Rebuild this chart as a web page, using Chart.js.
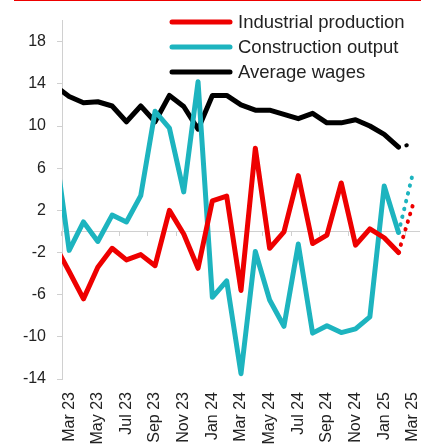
<!DOCTYPE html>
<html>
<head>
<meta charset="utf-8">
<script src="https://cdn.jsdelivr.net/npm/chart.js@4"></script>
<style>
  html, body { margin: 0; padding: 0; background: #fff; overflow: hidden; }
  #wrap { position: relative; width: 421px; height: 470px; }
  #rule { position: absolute; left: 14px; top: 0; width: 407px; height: 1px; background: #ee0000; }
</style>
</head>
<body>
<div id="wrap">
  <canvas id="chart"></canvas>
  <div id="rule"></div>
</div>
<script>
// Feb 23 is only there so the lines run in from the left edge (it is clipped)
const months = ["Feb 23", "Mar 23", "Apr 23", "May 23", "Jun 23", "Jul 23", "Aug 23", "Sep 23", "Oct 23", "Nov 23", "Dec 23",
    "Jan 24", "Feb 24", "Mar 24", "Apr 24", "May 24", "Jun 24", "Jul 24", "Aug 24", "Sep 24", "Oct 24", "Nov 24", "Dec 24",
    "Jan 25", "Feb 25", "Mar 25"];

const tickLabels = ["Mar 23", "May 23", "Jul 23", "Sep 23", "Nov 23", "Jan 24", "Mar 24", "May 24", "Jul 24", "Sep 24", "Nov 24", "Jan 25", "Mar 25"];

const yTicks = [18, 14, 10, 6, 2, -2, -6, -10, -14];

const industrial = [-1.3, -3.8, -6.4, -3.4, -1.6, -2.7, -2.2, -3.25, 2.0, -0.25, -3.5, 2.9, 3.35, -5.6, 7.9, -1.6, -0.05, 5.3, -1.15, -0.35, 4.6, -1.3, 0.25, -0.6, -2.0, null];
const construction = [8.2, -1.8, 0.9, -0.95, 1.55, 0.9, 3.4, 11.4, 9.8, 3.75, 14.2, -6.25, -4.7, -13.5, -1.9, -6.5, -9.0, -1.2, -9.65, -8.95, -9.6, -9.25, -8.1, 4.3, -0.1, null];
const wages = [13.8, 12.8, 12.2, 12.3, 11.9, 10.4, 11.9, 10.4, 12.9, 11.85, 9.7, 12.9, 12.9, 12.0, 11.5, 11.5, 11.1, 10.7, 11.2, 10.3, 10.3, 10.6, 10.0, 9.2, 8.0, null];

// dotted last step (Feb 25 -> Mar 25)
const industrialProj = [-2.0, 2.5];
const constructionProj = [-0.1, 5.5];
const wagesProj = [8.0, 8.3];

const RED = "#ee0000";
const TEAL = "#1db4bf";
const BLACK = "#000000";
const FONT = '"Liberation Sans", Arial, sans-serif';
const GREY = "#d0d0d0";
const NONE = "rgba(0,0,0,0)";

function projection(vals) {
    const out = months.map(() => null);
    out[months.length - 2] = vals[0];
    out[months.length - 1] = vals[1];
    return out;
}

function solid(label, data, color) {
    return {
        label: label,
        data: data,
        borderColor: color,
        borderWidth: 5,
        borderJoinStyle: "round",
        borderCapStyle: "round",
        pointRadius: 0,
        tension: 0,
        clip: 0
    };
}

function dotted(data, color) {
    return {
        label: "",
        data: projection(data),
        borderColor: color,
        borderWidth: 4,
        borderCapStyle: "round",
        borderDash: [0.5, 7.5],
        pointRadius: 0,
        tension: 0,
        clip: 0
    };
}

// legend drawn inside the plot, top right
const insideLegend = {
    id: "insideLegend",
    afterDraw(chart) {
        const ctx = chart.ctx;
        ctx.save();
        chart.data.datasets.slice(0, 3).forEach((ds, i) => {
            const y = 22 + i * 25;
            ctx.strokeStyle = ds.borderColor;
            ctx.lineWidth = 5;
            ctx.lineCap = "round";
            ctx.beginPath();
            ctx.moveTo(172, y);
            ctx.lineTo(230, y);
            ctx.stroke();
            ctx.fillStyle = "#222";
            ctx.font = "18.5px " + FONT;
            ctx.textBaseline = "middle";
            ctx.fillText(ds.label, 238, y + 1);
        });
        ctx.restore();
    }
};

new Chart(document.getElementById("chart"), {
    type: "line",
    data: {
        labels: months,
        datasets: [
            solid("Industrial production", industrial, RED),
            solid("Construction output", construction, TEAL),
            solid("Average wages", wages, BLACK),
            dotted(industrialProj, RED),
            dotted(constructionProj, TEAL),
            dotted(wagesProj, BLACK)
        ]
    },
    options: {
        responsive: true,
        maintainAspectRatio: false,
        animation: false,
        layout: {
            padding: { top: 19, right: 1, left: 0, bottom: 0 }
        },
        plugins: {
            legend: { display: false },
            tooltip: { enabled: false }
        },
        scales: {
            x: {
                type: "category",
                min: "Mar 23",
                offset: true,
                border: { display: false },
                grid: { display: false, drawTicks: false },
                ticks: {
                    autoSkip: false,
                    minRotation: 90,
                    maxRotation: 90,
                    padding: 13,
                    color: "#222",
                    font: { family: FONT, size: 16 },
                    callback: function (v) {
                        return tickLabels.includes(months[v]) ? months[v] : "";
                    }
                },
                afterFit: function (s) {
                    s.height = 91;
                    // labels may run off the edge, like the original
                    s.paddingLeft = 0;
                    s.paddingRight = 0;
                }
            },
            // small tick marks hanging under the zero line
            x2: {
                type: "category",
                axis: "x",
                position: { y: 0 },
                min: "Mar 23",
                offset: true,
                border: { display: false },
                grid: {
                    drawOnChartArea: false,
                    offset: true,
                    tickLength: 5,
                    tickColor: function (c) {
                        return (c.tick && tickLabels.includes(months[c.tick.value])) ? GREY : NONE;
                    }
                },
                ticks: { display: false, autoSkip: false }
            },
            y: {
                min: -14,
                max: 20,
                border: { color: GREY, width: 1 },
                grid: {
                    drawOnChartArea: true,
                    tickLength: 5,
                    color: function (c) { return c.tick && c.tick.value === 0 ? GREY : NONE; },
                    tickColor: function (c) { return c.tick && c.tick.value === 0 ? NONE : GREY; }
                },
                afterBuildTicks: function (s) {
                    s.ticks = yTicks.concat([0]).map(v => ({ value: v }));
                },
                ticks: {
                    padding: 11,
                    color: "#222",
                    font: { family: FONT, size: 16 },
                    callback: function (v) { return v === 0 ? "" : v; }
                },
                afterFit: function (s) { s.width = 62; }
            }
        }
    },
    plugins: [insideLegend]
});
</script>
</body>
</html>
